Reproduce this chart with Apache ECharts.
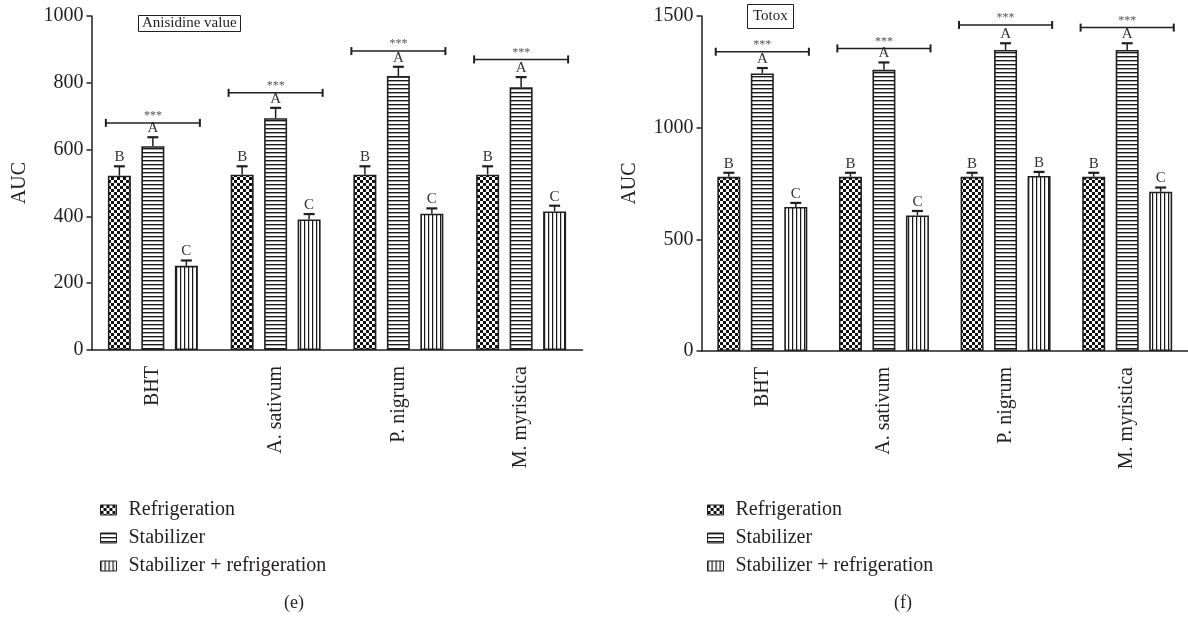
<!DOCTYPE html>
<html>
<head>
<meta charset="utf-8">
<script src="https://cdn.jsdelivr.net/npm/echarts@6/dist/echarts.min.js"></script>
<style>
  html, body { margin: 0; padding: 0; background: #fff; }
  #chart { width: 1188px; height: 618px; }
</style>
</head>
<body>
<div id="chart"></div>
<script>
// ---- data ----
const categories = ['BHT', 'A. sativum', 'P. nigrum', 'M. myristica'];
const seriesNames = ['Refrigeration', 'Stabilizer', 'Stabilizer + refrigeration'];

// (e) Anisidine value, AUC
const anisRefrig = [522, 525, 525, 525];
const anisRefrigErr = [28, 25, 25, 25];
const anisStab = [610, 694, 820, 787];
const anisStabErr = [27, 31, 28, 30];
const anisStabRefrig = [252, 391, 408, 415];
const anisStabRefrigErr = [16, 16, 16, 17];
const anisLetters = [['B', 'B', 'B', 'B'], ['A', 'A', 'A', 'A'], ['C', 'C', 'C', 'C']];
const anisSigLevel = [680, 770, 895, 870];
const anisTicks = { min: 0, max: 1000, interval: 200 };

// (f) Totox, AUC
const totoxRefrig = [780, 780, 780, 780];
const totoxRefrigErr = [18, 18, 18, 18];
const totoxStab = [1243, 1259, 1348, 1348];
const totoxStabErr = [24, 33, 30, 30];
const totoxStabRefrig = [645, 607, 784, 713];
const totoxStabRefrigErr = [18, 20, 18, 19];
const totoxLetters = [['B', 'B', 'B', 'B'], ['A', 'A', 'A', 'A'], ['C', 'C', 'B', 'C']];
const totoxSigLevel = [1340, 1355, 1460, 1448];
const totoxTicks = { min: 0, max: 1500, interval: 500 };

// ---- styling ----
const FONT = "'Liberation Serif', 'Times New Roman', serif";
const INK = '#231f20';
const BAR_W = 23;
const BAR_GAP = 0.456; // fraction of bar width

function makePattern(kind) {
  const c = document.createElement('canvas');
  const ctx = c.getContext('2d');
  if (kind === 'checker') {
    c.width = 6; c.height = 6;
    ctx.fillStyle = '#fff'; ctx.fillRect(0, 0, 6, 6);
    ctx.fillStyle = '#111';
    ctx.fillRect(0, 0, 3, 3); ctx.fillRect(3, 3, 3, 3);
  } else if (kind === 'hstripe') {
    c.width = 4; c.height = 4;
    ctx.fillStyle = '#fff'; ctx.fillRect(0, 0, 4, 4);
    ctx.fillStyle = '#1a1a1a'; ctx.fillRect(0, 0, 4, 1);
    ctx.fillStyle = 'rgba(0,0,0,0.35)'; ctx.fillRect(0, 1, 4, 1);
  } else {
    c.width = 4; c.height = 4;
    ctx.fillStyle = '#fff'; ctx.fillRect(0, 0, 4, 4);
    ctx.fillStyle = '#1a1a1a'; ctx.fillRect(0, 0, 1, 4);
    ctx.fillStyle = 'rgba(0,0,0,0.2)'; ctx.fillRect(1, 0, 1, 4);
  }
  return { image: c, repeat: 'repeat' };
}
const fills = [makePattern('checker'), makePattern('hstripe'), makePattern('vstripe')];

function barSeries(gridIdx, k, values) {
  return {
    name: seriesNames[k], type: 'bar',
    xAxisIndex: gridIdx, yAxisIndex: gridIdx,
    data: values, barWidth: BAR_W, barGap: (BAR_GAP * 100) + '%',
    itemStyle: { color: fills[k], borderColor: INK, borderWidth: 1.6 },
    emphasis: { disabled: true }, z: 2
  };
}

function errorSeries(gridIdx, k, values, errs, letters) {
  return {
    type: 'custom', xAxisIndex: gridIdx, yAxisIndex: gridIdx, z: 4,
    silent: true,
    data: values.map((v, i) => [i, v, v + errs[i]]),
    renderItem(params, api) {
      const off = (k - 1) * BAR_W * (1 + BAR_GAP);
      const base = api.coord([api.value(0), api.value(1)]);
      const top = api.coord([api.value(0), api.value(2)]);
      const x = base[0] + off;
      return {
        type: 'group',
        children: [
          { type: 'line', shape: { x1: x, y1: base[1], x2: x, y2: top[1] },
            style: { stroke: INK, lineWidth: 1.5 } },
          { type: 'line', shape: { x1: x - 5.5, y1: top[1], x2: x + 5.5, y2: top[1] },
            style: { stroke: INK, lineWidth: 2.2 } },
          { type: 'text', x: x, y: top[1] - 1.5,
            style: { text: letters[params.dataIndex], fill: '#333', font: '15px ' + FONT,
                     align: 'center', verticalAlign: 'bottom' } }
        ]
      };
    }
  };
}

function sigSeries(gridIdx, levels) {
  return {
    type: 'custom', xAxisIndex: gridIdx, yAxisIndex: gridIdx, z: 4,
    silent: true,
    data: levels.map((v, i) => [i, v]),
    renderItem(params, api) {
      const p = api.coord([api.value(0), api.value(1)]);
      const half = api.size([1, 0])[0] * 0.383;
      const x1 = p[0] - half, x2 = p[0] + half, y = p[1];
      return {
        type: 'group',
        children: [
          { type: 'line', shape: { x1: x1, y1: y, x2: x2, y2: y }, style: { stroke: INK, lineWidth: 1.5 } },
          { type: 'line', shape: { x1: x1, y1: y - 4, x2: x1, y2: y + 4 }, style: { stroke: INK, lineWidth: 2 } },
          { type: 'line', shape: { x1: x2, y1: y - 4, x2: x2, y2: y + 4 }, style: { stroke: INK, lineWidth: 2 } },
          { type: 'text', x: p[0], y: y - 1,
            style: { text: '***', fill: '#555', font: '12px ' + FONT, align: 'center', verticalAlign: 'bottom' } }
        ]
      };
    }
  };
}

function xAxis(gridIdx) {
  return {
    type: 'category', gridIndex: gridIdx, data: categories,
    axisLine: { lineStyle: { color: INK, width: 1.5 } },
    axisTick: { alignWithLabel: true, length: 5, lineStyle: { color: INK, width: 1.5 } },
    axisLabel: { rotate: 90, margin: 16, color: INK, fontFamily: FONT, fontSize: 20 },
    splitLine: { show: false }
  };
}

function yAxis(gridIdx, t) {
  return {
    type: 'value', gridIndex: gridIdx, min: t.min, max: t.max, interval: t.interval,
    name: 'AUC', nameLocation: 'middle', nameGap: 62, nameRotate: 90,
    nameTextStyle: { color: INK, fontFamily: FONT, fontSize: 20 },
    axisLine: { show: true, lineStyle: { color: INK, width: 1.5 } },
    axisTick: { show: true, length: 5, lineStyle: { color: INK, width: 1.5 } },
    axisLabel: { margin: 8, color: INK, fontFamily: FONT, fontSize: 20,
                 formatter: (v) => String(v) },
    splitLine: { show: false }
  };
}

function legend(left) {
  return {
    left: left, top: 495, orient: 'vertical', itemGap: 8,
    itemWidth: 16, itemHeight: 10, icon: 'rect',
    data: seriesNames, selectedMode: false,
    textStyle: { color: INK, fontFamily: FONT, fontSize: 20, padding: [0, 0, 0, 7] },
    itemStyle: { borderColor: INK, borderWidth: 1 }
  };
}

const chart = echarts.init(document.getElementById('chart'), null, { renderer: 'canvas' });
chart.setOption({
  animation: false,
  backgroundColor: '#fff',
  title: [
    { text: 'Anisidine value', left: 138, top: 15, padding: [1, 4],
      borderColor: INK, borderWidth: 1,
      textStyle: { fontFamily: FONT, fontSize: 15, fontWeight: 'normal', color: INK, lineHeight: 15 } },
    { text: 'Totox', left: 747, top: 4, padding: [5, 6],
      borderColor: INK, borderWidth: 1,
      textStyle: { fontFamily: FONT, fontSize: 15, fontWeight: 'normal', color: INK, lineHeight: 15 } }
  ],
  grid: [
    { left: 91.5, top: 16, width: 491, height: 334 },
    { left: 701.5, top: 16, width: 491, height: 335 }
  ],
  xAxis: [xAxis(0), xAxis(1)],
  yAxis: [yAxis(0, anisTicks), yAxis(1, totoxTicks)],
  legend: [legend(95), legend(702)],
  series: [
    barSeries(0, 0, anisRefrig),
    barSeries(0, 1, anisStab),
    barSeries(0, 2, anisStabRefrig),
    errorSeries(0, 0, anisRefrig, anisRefrigErr, anisLetters[0]),
    errorSeries(0, 1, anisStab, anisStabErr, anisLetters[1]),
    errorSeries(0, 2, anisStabRefrig, anisStabRefrigErr, anisLetters[2]),
    sigSeries(0, anisSigLevel),
    barSeries(1, 0, totoxRefrig),
    barSeries(1, 1, totoxStab),
    barSeries(1, 2, totoxStabRefrig),
    errorSeries(1, 0, totoxRefrig, totoxRefrigErr, totoxLetters[0]),
    errorSeries(1, 1, totoxStab, totoxStabErr, totoxLetters[1]),
    errorSeries(1, 2, totoxStabRefrig, totoxStabRefrigErr, totoxLetters[2]),
    sigSeries(1, totoxSigLevel)
  ],
  graphic: [
    { type: 'text', left: 284, top: 594, style: { text: '(e)', font: '18px ' + FONT, fill: INK } },
    { type: 'text', left: 894, top: 594, style: { text: '(f)', font: '18px ' + FONT, fill: INK } }
  ]
});
</script>
</body>
</html>
